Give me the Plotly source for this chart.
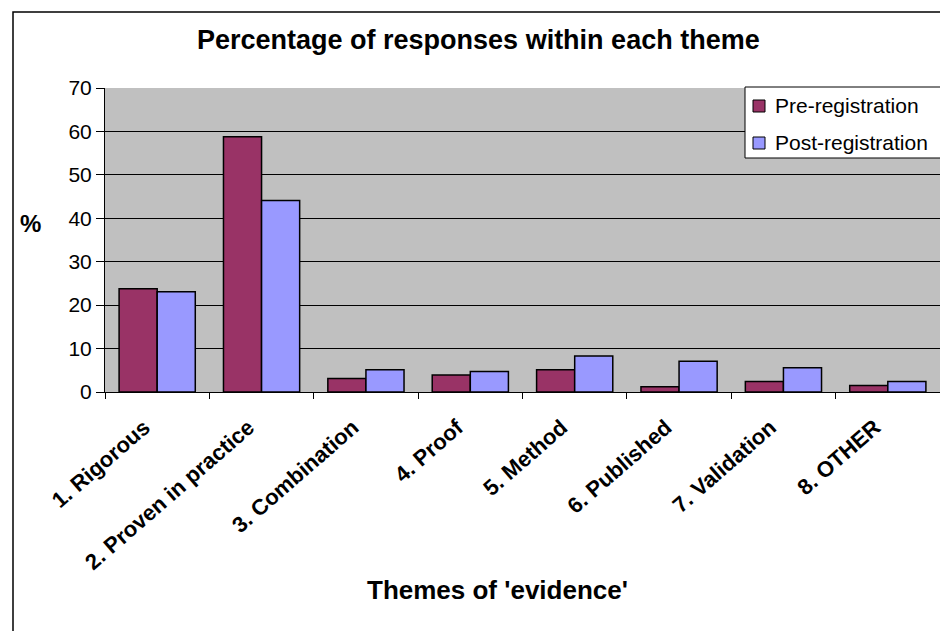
import plotly.graph_objects as go

# Themes and response percentages
themes = ["1. Rigorous", "2. Proven in practice", "3. Combination", "4. Proof",
          "5. Method", "6. Published", "7. Validation", "8. OTHER"]
pre_registration = [23.8, 58.8, 3.1, 3.9, 5.1, 1.2, 2.4, 1.5]
post_registration = [23.1, 44.1, 5.1, 4.7, 8.3, 7.1, 5.6, 2.4]
y_ticks = [0, 10, 20, 30, 40, 50, 60, 70]
series_names = ["Pre-registration", "Post-registration"]
series_colors = ["#993366", "#9999FF"]

FONT = "Liberation Sans, Arial, sans-serif"

# plot area in pixels (for converting frame positions to paper coords)
L, R, T, B = 105, 940, 88, 392
def px_x(p):
    return (p - L) / (R - L)
def px_y(p):
    return (B - p) / (B - T)

fig = go.Figure()
for name, color, values in zip(series_names, series_colors,
                               [pre_registration, post_registration]):
    fig.add_trace(go.Bar(
        x=themes, y=values, name=name, showlegend=False,
        marker=dict(color=color, line=dict(color="black", width=1.5)),
    ))

fig.update_layout(
    width=940, height=631,
    margin=dict(l=L, r=940 - R, t=T, b=631 - B, autoexpand=False),
    paper_bgcolor="white",
    plot_bgcolor="#C0C0C0",
    barmode="group", bargap=0.27, bargroupgap=0,
    font=dict(family=FONT, color="black", size=16),
    xaxis=dict(
        type="category", range=[-0.5, 7.5],
        showline=True, linecolor="black", linewidth=1,
        ticks="outside", tickson="boundaries", ticklen=6, tickcolor="black",
        tickangle=-41, ticklabelstandoff=13, ticklabelshift=-13,
        tickfont=dict(size=22, weight="bold", family=FONT),
        showgrid=False,
    ),
    yaxis=dict(
        range=[0, 70], tickvals=y_ticks,
        showline=True, linecolor="black", linewidth=1,
        ticks="outside", ticklen=8, tickcolor="black",
        showgrid=True, gridcolor="black", gridwidth=1,
        tickfont=dict(size=21, family=FONT),
        zeroline=False,
    ),
)

# chart title, axis titles
fig.add_annotation(
    text="<b>Percentage of responses within each theme</b>",
    x=px_x(478), y=px_y(40), xref="paper", yref="paper",
    xanchor="center", yanchor="middle",
    showarrow=False, font=dict(size=27, family=FONT),
)
fig.add_annotation(
    text="<b>Themes of 'evidence'</b>",
    x=px_x(497), y=px_y(590), xref="paper", yref="paper",
    xanchor="center", yanchor="middle",
    showarrow=False, font=dict(size=26, family=FONT),
)
fig.add_annotation(
    text="<b>%</b>",
    x=px_x(30), y=px_y(223), xref="paper", yref="paper",
    xanchor="center", yanchor="middle",
    showarrow=False, font=dict(size=24, family=FONT),
)

# outer chart frame
fig.add_shape(
    type="rect", xref="paper", yref="paper",
    x0=px_x(13), x1=px_x(960), y0=px_y(660), y1=px_y(12),
    line=dict(color="black", width=1.5), layer="below",
)

# legend box with swatches
fig.add_shape(
    type="rect", xref="paper", yref="paper",
    x0=px_x(745), x1=px_x(970), y0=px_y(158), y1=px_y(87),
    fillcolor="white", line=dict(color="black", width=1), layer="above",
)
for i, (name, color) in enumerate(zip(series_names, series_colors)):
    top = 100 + 37 * i
    fig.add_shape(
        type="rect", xref="paper", yref="paper",
        x0=px_x(753), x1=px_x(765), y0=px_y(top + 12), y1=px_y(top),
        fillcolor=color, line=dict(color="black", width=1), layer="above",
    )
    fig.add_annotation(
        text=name, x=px_x(773), y=px_y(top + 5), xref="paper", yref="paper",
        xanchor="left", yanchor="middle", showarrow=False,
        font=dict(size=21, family=FONT),
    )

fig.write_html("out.html")
